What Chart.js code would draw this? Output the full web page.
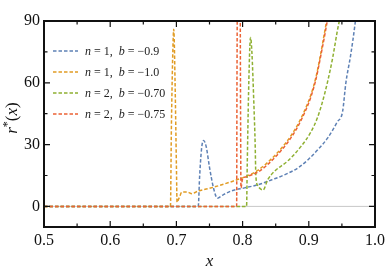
<!DOCTYPE html>
<html>
<head>
<meta charset="utf-8">
<script src="https://cdn.jsdelivr.net/npm/chart.js@4.4.1/dist/chart.umd.min.js"></script>
<style>
html,body{margin:0;padding:0;background:#fff;}
canvas{display:block;}
</style>
</head>
<body>
<canvas id="c" width="389" height="274" style="width:389px;height:274px"></canvas>
<script>
// ---- data ----
const seriesN = [1, 1, 2, 2];
const seriesB = ['\u22120.9', '\u22121.0', '\u22120.70', '\u22120.75'];
const seriesColors = ['#5E81B5', '#E19C24', '#8FB032', '#EB6235'];

const blueX = [0.5, 0.733, 0.735, 0.738, 0.741, 0.745, 0.750, 0.756, 0.762, 0.770, 0.783, 0.803, 0.823, 0.845, 0.868, 0.885, 0.900, 0.915, 0.928, 0.943, 0.951, 0.956, 0.963, 0.970, 0.972];
const blueY = [0, 0, 14, 28, 32, 29, 19, 9, 4, 5.5, 7.5, 9, 10.5, 13, 16, 19, 23, 28, 33, 41, 46, 60, 73, 89, 95];

const orangeX = [0.5, 0.691, 0.6925, 0.695, 0.696, 0.698, 0.700, 0.701, 0.704, 0.7085, 0.716, 0.7235, 0.733, 0.748, 0.783, 0.803, 0.823, 0.848, 0.868, 0.883, 0.893, 0.903, 0.911, 0.918, 0.923, 0.928];
const orangeY = [0, 0, 40, 80, 86, 60, 20, 2, 4, 7, 7, 6.2, 7.5, 8.6, 12, 14.3, 17.5, 24.5, 32, 39.5, 46, 54, 63, 74, 83, 92];

const greenX = [0.5, 0.806, 0.807, 0.809, 0.811, 0.812, 0.814, 0.817, 0.819, 0.820, 0.823, 0.827, 0.831, 0.838, 0.848, 0.868, 0.888, 0.903, 0.913, 0.920, 0.928, 0.936, 0.943, 0.948];
const greenY = [0, 0, 20, 55, 78, 82, 75, 50, 30, 15, 10, 8.5, 8, 13, 17, 22, 29, 36, 43, 50, 60, 72, 85, 93];

const redX = [0.5, 0.791, 0.7915, 0.7925, 0.796, 0.797, 0.7975, 0.800, 0.805, 0.815, 0.825, 0.848, 0.868, 0.883, 0.893, 0.903, 0.911, 0.918, 0.924, 0.929];
const redY = [0, 0, 60, 120, 120, 40, 9, 13.5, 14.3, 15.5, 17, 23.5, 31, 38.5, 45, 53, 62, 73, 83, 92];

const xTicks = [0.5, 0.6, 0.7, 0.8, 0.9, 1.0];
const xMinorTicks = [0.55, 0.65, 0.75, 0.85, 0.95];
const yTicks = [0, 30, 60, 90];
const yMinorTicks = [15, 45, 75];

const allX = [blueX, orangeX, greenX, redX];
const allY = [blueY, orangeY, greenY, redY];

const SERIF = '"Liberation Serif", "DejaVu Serif", serif';

const datasets = allX.map((xs, i) => ({
  label: 'n = ' + seriesN[i] + ',  b = ' + seriesB[i],
  data: xs.map((x, j) => ({x: x, y: allY[i][j]})),
  borderColor: seriesColors[i],
  borderWidth: 1.5,
  borderDash: [3.5, 2],
  pointRadius: 0,
  cubicInterpolationMode: 'monotone',
  fill: false,
  order: 3 - i
}));

const decor = {
  id: 'decor',
  beforeDatasetsDraw(chart) {
    const {ctx, chartArea: a, scales: {y}} = chart;
    const py = y.getPixelForValue(0);
    ctx.save();
    ctx.strokeStyle = '#c8c8c8';
    ctx.lineWidth = 1;
    ctx.beginPath();
    ctx.moveTo(a.left, py); ctx.lineTo(a.right, py);
    ctx.stroke();
    ctx.restore();
  },
  afterDatasetsDraw(chart) {
    const {ctx, chartArea: a, scales: {x, y}} = chart;
    ctx.save();
    // frame
    ctx.strokeStyle = '#111';
    ctx.lineWidth = 2;
    ctx.strokeRect(a.left, a.top, a.right - a.left, a.bottom - a.top);
    // ticks
    ctx.lineWidth = 1.2;
    ctx.beginPath();
    const tx = (v, len) => {
      const p = x.getPixelForValue(v);
      ctx.moveTo(p, a.bottom); ctx.lineTo(p, a.bottom - len);
      ctx.moveTo(p, a.top); ctx.lineTo(p, a.top + len);
    };
    const ty = (v, len) => {
      const p = y.getPixelForValue(v);
      ctx.moveTo(a.left, p); ctx.lineTo(a.left + len, p);
      ctx.moveTo(a.right, p); ctx.lineTo(a.right - len, p);
    };
    xTicks.forEach(v => tx(v, 6));
    xMinorTicks.forEach(v => tx(v, 3.5));
    yTicks.forEach(v => ty(v, 6));
    yMinorTicks.forEach(v => ty(v, 3.5));
    ctx.stroke();

    // legend
    const rowY = [51, 72, 93, 114];
    chart.data.datasets.forEach((ds, i) => {
      const yy = rowY[i];
      ctx.strokeStyle = ds.borderColor;
      ctx.lineWidth = 1.5;
      ctx.setLineDash([3.5, 2]);
      ctx.beginPath();
      ctx.moveTo(53, yy); ctx.lineTo(78, yy);
      ctx.stroke();
      ctx.setLineDash([]);
      let cx = 85;
      ctx.fillStyle = '#222';
      ctx.textBaseline = 'middle';
      const parts = [['n', true], [' = ' + seriesN[i] + ',  ', false], ['b', true], [' = ' + seriesB[i], false]];
      parts.forEach(([t, it]) => {
        ctx.font = (it ? 'italic ' : '') + '12px ' + SERIF;
        ctx.fillText(t, cx, yy + 1);
        cx += ctx.measureText(t).width;
      });
    });

    // x title
    ctx.fillStyle = '#111';
    ctx.textBaseline = 'alphabetic';
    ctx.textAlign = 'center';
    ctx.font = 'italic 17px ' + SERIF;
    ctx.fillText('x', (a.left + a.right) / 2, 266);

    // y title rotated: r*(x)
    ctx.translate(17, 118);
    ctx.rotate(-Math.PI / 2);
    ctx.textAlign = 'left';
    const yparts = [['r', 'italic 17px ', 0], ['*', '12px ', -6], ['(', '17px ', 0], ['x', 'italic 17px ', 0], [')', '17px ', 0]];
    let w = 0;
    yparts.forEach(([t, f]) => { ctx.font = f + SERIF; w += ctx.measureText(t).width; });
    let cx = -w / 2;
    yparts.forEach(([t, f, dy]) => {
      ctx.font = f + SERIF;
      ctx.fillText(t, cx, dy);
      cx += ctx.measureText(t).width;
    });
    ctx.restore();
  }
};

new Chart(document.getElementById('c'), {
  type: 'line',
  data: {datasets: datasets},
  options: {
    responsive: false,
    animation: false,
    devicePixelRatio: 1,
    layout: {padding: {top: 21, right: 11, left: 0, bottom: 0}},
    plugins: {legend: {display: false}, tooltip: {enabled: false}},
    scales: {
      x: {
        type: 'linear', min: 0.5, max: 1.0,
        afterBuildTicks(s) { s.ticks = xTicks.map(v => ({value: v})); },
        afterFit(s) { s.height = 47; },
        grid: {display: false, drawTicks: false},
        border: {display: false},
        ticks: {
          padding: 4, color: '#111', maxRotation: 0,
          font: {family: SERIF, size: 16},
          callback: v => Number(v).toFixed(1)
        }
      },
      y: {
        type: 'linear', min: -10, max: 90,
        afterBuildTicks(s) { s.ticks = yTicks.map(v => ({value: v})); },
        afterFit(s) { s.width = 44; },
        grid: {display: false, drawTicks: false},
        border: {display: false},
        ticks: {
          padding: 4, color: '#111',
          font: {family: SERIF, size: 16},
          callback: v => String(v)
        }
      }
    }
  },
  plugins: [decor]
});
</script>
</body>
</html>
